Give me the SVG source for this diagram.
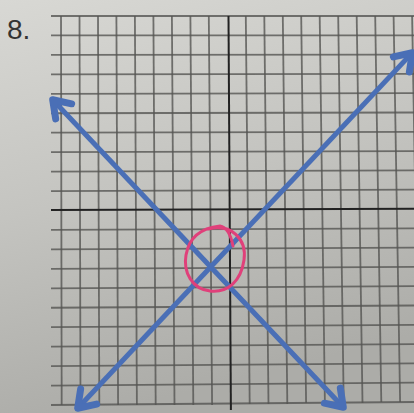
<svg xmlns="http://www.w3.org/2000/svg" width="414" height="413" viewBox="0 0 414 413">
<defs>
<linearGradient id="paper" x1="0" y1="0" x2="0.25" y2="1">
<stop offset="0" stop-color="#d8d8d4"/>
<stop offset="0.5" stop-color="#c4c4c0"/>
<stop offset="1" stop-color="#acaca8"/>
</linearGradient>
<marker id="arr" viewBox="-26 -18 30 36" markerWidth="30" markerHeight="36" refX="0" refY="0" orient="auto-start-reverse" markerUnits="userSpaceOnUse">
<path d="M -17 -11 L -1 0 L -17 11" fill="none" stroke="#4a6fb6" stroke-width="7" stroke-linejoin="round" stroke-linecap="round"/>
</marker>
<style>
.g{stroke:#555553;stroke-width:1.8;fill:none;opacity:0.8}
.ax{stroke:#222;stroke-width:2;fill:none}
.ln{stroke:#4a6fb6;stroke-width:5;fill:none;marker-start:url(#arr);marker-end:url(#arr)}
.lbl{font-family:"Liberation Sans",Arial,sans-serif;font-size:28px;fill:#333}
</style>
</defs>
<rect x="0" y="0" width="414" height="413" fill="url(#paper)"/>
<text class="lbl" x="7" y="39">8.</text>
<g id="grid">
<line class="g" x1="61" y1="16" x2="61.7" y2="405"/>
<line class="g" x1="79.5" y1="16" x2="80.5" y2="405"/>
<line class="g" x1="98" y1="16" x2="99.3" y2="405"/>
<line class="g" x1="116.4" y1="16" x2="118.1" y2="405"/>
<line class="g" x1="134.9" y1="16" x2="136.9" y2="405"/>
<line class="g" x1="153.4" y1="16" x2="155.7" y2="405"/>
<line class="g" x1="171.9" y1="16" x2="174.5" y2="405"/>
<line class="g" x1="190.4" y1="16" x2="193.3" y2="405"/>
<line class="g" x1="208.8" y1="16" x2="212.1" y2="405"/>
<line class="g" x1="245.8" y1="16" x2="249.7" y2="404"/>
<line class="g" x1="264.3" y1="16" x2="268.5" y2="404"/>
<line class="g" x1="282.8" y1="16" x2="287.3" y2="404"/>
<line class="g" x1="301.2" y1="16" x2="306.1" y2="403"/>
<line class="g" x1="319.7" y1="16" x2="324.9" y2="403"/>
<line class="g" x1="338.2" y1="16" x2="343.7" y2="403"/>
<line class="g" x1="356.7" y1="16" x2="362.5" y2="403"/>
<line class="g" x1="375.2" y1="16" x2="381.3" y2="402"/>
<line class="g" x1="393.6" y1="16" x2="400.1" y2="402"/>
<line class="g" x1="412.1" y1="16" x2="418.9" y2="402"/>
<line class="g" x1="51" y1="16" x2="414" y2="16"/>
<line class="g" x1="51" y1="35.45" x2="414" y2="35.3"/>
<line class="g" x1="51" y1="54.9" x2="414" y2="54.6"/>
<line class="g" x1="51" y1="74.35" x2="414" y2="73.9"/>
<line class="g" x1="51" y1="93.8" x2="414" y2="93.2"/>
<line class="g" x1="51" y1="113.25" x2="414" y2="112.5"/>
<line class="g" x1="51" y1="132.7" x2="414" y2="131.8"/>
<line class="g" x1="51" y1="152.15" x2="414" y2="151.1"/>
<line class="g" x1="51" y1="171.6" x2="414" y2="170.4"/>
<line class="g" x1="51" y1="191.05" x2="414" y2="189.7"/>
<line class="g" x1="51" y1="229.95" x2="414" y2="228.3"/>
<line class="g" x1="51" y1="249.4" x2="414" y2="247.6"/>
<line class="g" x1="51" y1="268.85" x2="414" y2="266.9"/>
<line class="g" x1="51" y1="288.3" x2="414" y2="286.2"/>
<line class="g" x1="51" y1="307.75" x2="414" y2="305.5"/>
<line class="g" x1="51" y1="327.2" x2="414" y2="324.8"/>
<line class="g" x1="51" y1="346.65" x2="414" y2="344.1"/>
<line class="g" x1="51" y1="366.1" x2="414" y2="363.4"/>
<line class="g" x1="51" y1="385.55" x2="414" y2="382.7"/>
<line class="g" x1="51" y1="405" x2="414" y2="402"/>
</g>
<g id="axes">
<line class="ax" x1="228.5" y1="16" x2="230.9" y2="410"/>
<line class="ax" x1="51" y1="210" x2="414" y2="208.8"/>
</g>
<g id="lines">
<line class="ln" x1="52" y1="99" x2="344" y2="408"/>
<line class="ln" x1="77" y1="409" x2="413" y2="52"/>
</g>
<g id="mark">
<path d="M 208 229 C 231 223 247 239 244 260 C 241 281 228 293 210 291 C 192 289 183 272 186 255 C 189 238 201 228 220 226 C 227 227 231 236 233 246" fill="none" stroke="#e0407a" stroke-width="3" stroke-linecap="round"/>
</g>
</svg>
